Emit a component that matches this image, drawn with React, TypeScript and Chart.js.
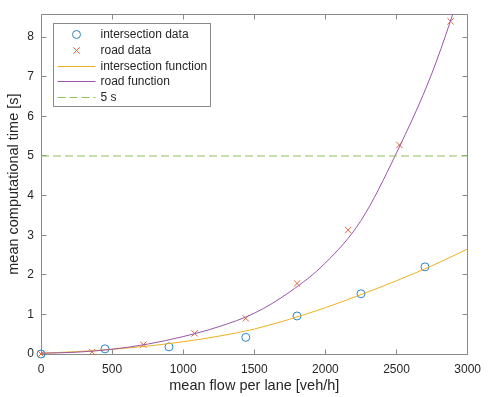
import React, { useEffect, useRef } from "react";
import { Chart, registerables } from "chart.js";

Chart.register(...registerables);

// ---- data ----
const flowTicks = [0, 500, 1000, 1500, 2000, 2500, 3000];
const timeTicks = [0, 1, 2, 3, 4, 5, 6, 7, 8];

const intersectionFlow = [0, 450, 900, 1440, 1800, 2250, 2700];
const intersectionTime = [0.0, 0.13, 0.18, 0.42, 0.96, 1.52, 2.2];

const roadFlow = [0, 360, 720, 1080, 1440, 1800, 2160, 2520, 2880];
const roadTime = [0.0, 0.05, 0.235, 0.52, 0.9, 1.78, 3.13, 5.28, 8.4];

const fitFlow = [0, 250, 500, 750, 1000, 1250, 1500, 1750, 2000, 2250, 2500, 2750, 3000];
const intersectionFit = [0.02, 0.06, 0.12, 0.2, 0.31, 0.45, 0.63, 0.88, 1.17, 1.5, 1.85, 2.23, 2.65];
const roadFit = [0.02, 0.045, 0.12, 0.25, 0.44, 0.69, 1.03, 1.57, 2.3, 3.37, 5.08, 7.1, 9.7];

const thresholdFlow = [0, 3000];
const thresholdTime = [5, 5];

const seriesLabels = ["intersection data", "road data", "intersection function", "road function", "5 s"];
const xTitle = "mean flow per lane [veh/h]";
const yTitle = "mean computational time [s]";

// ---- styles ----
const BLUE = "#2a86c8";
const ORANGE = "#e0683a";
const YELLOW = "#EDB120";
const PURPLE = "#9a55a8";
const GREEN = "#8fc25a";
const TEXT = "#262626";
const AXIS = "#8a8a8a";
const FONT = "'Liberation Sans', Arial, Helvetica, sans-serif";

const pts = (xs: number[], ys: number[]) => xs.map((x, i) => ({ x, y: ys[i] }));

const framePlugin = {
  id: "frame",
  beforeDatasetsDraw(chart: any) {
    const { ctx, chartArea: a, scales } = chart;
    const xs = scales.x;
    const ys = scales.y;
    ctx.save();
    ctx.strokeStyle = AXIS;
    ctx.lineWidth = 1;
    const L = Math.floor(a.left) + 0.5;
    const R = Math.floor(a.right) + 0.5;
    const T = Math.floor(a.top) + 0.5;
    const B = Math.floor(a.bottom) + 0.5;
    ctx.beginPath();
    ctx.rect(L, T, R - L, B - T);
    const tl = 5;
    flowTicks.forEach((v) => {
      const px = Math.floor(xs.getPixelForValue(v)) + 0.5;
      ctx.moveTo(px, B);
      ctx.lineTo(px, B - tl);
      ctx.moveTo(px, T);
      ctx.lineTo(px, T + tl);
    });
    timeTicks.forEach((v) => {
      const py = Math.floor(ys.getPixelForValue(v)) + 0.5;
      ctx.moveTo(L, py);
      ctx.lineTo(L + tl, py);
      ctx.moveTo(R, py);
      ctx.lineTo(R - tl, py);
    });
    ctx.stroke();
    ctx.restore();
  },
  afterDatasetsDraw(chart: any) {
    const { ctx, chartArea: a } = chart;
    ctx.save();
    const bx = Math.floor(a.left) + 12 + 0.5;
    const by = Math.floor(a.top) + 9 + 0.5;
    const bw = 157;
    const bh = 83;
    ctx.fillStyle = "#ffffff";
    ctx.fillRect(bx, by, bw, bh);
    ctx.strokeStyle = AXIS;
    ctx.lineWidth = 1;
    ctx.strokeRect(bx, by, bw, bh);
    const rowY = (i: number) => Math.floor(by + 11 + i * 15.75) + 0.5;
    const sx0 = bx + 4;
    const sx1 = bx + 42;
    const mx = (sx0 + sx1) / 2;
    const tx = bx + 47;
    // circle
    ctx.strokeStyle = BLUE;
    ctx.beginPath();
    ctx.arc(mx, rowY(0), 4, 0, Math.PI * 2);
    ctx.stroke();
    // cross
    ctx.strokeStyle = ORANGE;
    const c = 3.2;
    ctx.beginPath();
    ctx.moveTo(mx - c, rowY(1) - c);
    ctx.lineTo(mx + c, rowY(1) + c);
    ctx.moveTo(mx - c, rowY(1) + c);
    ctx.lineTo(mx + c, rowY(1) - c);
    ctx.stroke();
    // lines
    const drawLine = (i: number, col: string, dash: number[]) => {
      ctx.strokeStyle = col;
      ctx.setLineDash(dash);
      ctx.beginPath();
      ctx.moveTo(sx0, rowY(i));
      ctx.lineTo(sx1, rowY(i));
      ctx.stroke();
      ctx.setLineDash([]);
    };
    drawLine(2, YELLOW, []);
    drawLine(3, PURPLE, []);
    drawLine(4, GREEN, [8, 4]);
    ctx.fillStyle = TEXT;
    ctx.font = `12px ${FONT}`;
    ctx.textBaseline = "middle";
    ctx.textAlign = "left";
    seriesLabels.forEach((t, i) => ctx.fillText(t, tx, rowY(i)));
    ctx.restore();
  },
};

export default function App() {
  const ref = useRef<HTMLCanvasElement | null>(null);

  useEffect(() => {
    if (!ref.current) return;
    const chart = new Chart(ref.current, {
      type: "scatter",
      data: {
        datasets: [
          {
            label: seriesLabels[0],
            data: pts(intersectionFlow, intersectionTime),
            showLine: false,
            pointStyle: "circle",
            pointRadius: 4,
            pointBorderWidth: 1,
            pointBorderColor: BLUE,
            pointBackgroundColor: "rgba(0,0,0,0)",
            borderColor: BLUE,
            clip: false,
            order: 5,
          },
          {
            label: seriesLabels[1],
            data: pts(roadFlow, roadTime),
            showLine: false,
            pointStyle: "crossRot",
            pointRadius: 4.5,
            pointBorderWidth: 1,
            pointBorderColor: ORANGE,
            borderColor: ORANGE,
            clip: false,
            order: 4,
          },
          {
            label: seriesLabels[2],
            data: pts(fitFlow, intersectionFit),
            showLine: true,
            pointRadius: 0,
            borderColor: YELLOW,
            borderWidth: 1,
            cubicInterpolationMode: "monotone",
            order: 3,
          },
          {
            label: seriesLabels[3],
            data: pts(fitFlow, roadFit),
            showLine: true,
            pointRadius: 0,
            borderColor: PURPLE,
            borderWidth: 1,
            cubicInterpolationMode: "monotone",
            order: 2,
          },
          {
            label: seriesLabels[4],
            data: pts(thresholdFlow, thresholdTime),
            showLine: true,
            pointRadius: 0,
            borderColor: GREEN,
            borderWidth: 1,
            borderDash: [8, 4],
            order: 1,
          },
        ],
      } as any,
      options: {
        animation: false,
        responsive: false,
        devicePixelRatio: 1,
        layout: { padding: { top: 14, right: 15, left: 0, bottom: 0 } },
        plugins: { legend: { display: false }, tooltip: { enabled: false } },
        events: [],
        scales: {
          x: {
            type: "linear",
            min: 0,
            max: 3000,
            afterBuildTicks: (s: any) => {
              s.ticks = flowTicks.map((v) => ({ value: v }));
            },
            afterFit: (s: any) => {
              s.height = 43;
            },
            grid: { display: false, drawTicks: false },
            border: { display: false },
            ticks: {
              color: TEXT,
              font: { family: FONT, size: 12 },
              padding: 8,
              maxRotation: 0,
              autoSkip: false,
              callback: (v: any) => String(v),
            },
            title: {
              display: true,
              text: xTitle,
              color: TEXT,
              font: { family: FONT, size: 14.5 },
              padding: { top: 0, bottom: 2.5 },
            },
          },
          y: {
            type: "linear",
            min: 0,
            max: 8.58,
            afterBuildTicks: (s: any) => {
              s.ticks = timeTicks.map((v) => ({ value: v }));
            },
            afterFit: (s: any) => {
              s.width = 41;
            },
            grid: { display: false, drawTicks: false },
            border: { display: false },
            ticks: {
              color: TEXT,
              font: { family: FONT, size: 12 },
              padding: 7,
              autoSkip: false,
              callback: (v: any) => String(v),
            },
            title: {
              display: true,
              text: yTitle,
              color: TEXT,
              font: { family: FONT, size: 14.5 },
              padding: { top: 5.3, bottom: 0 },
            },
          },
        },
      } as any,
      plugins: [framePlugin],
    });
    return () => chart.destroy();
  }, []);

  return (
    <div style={{ position: "absolute", left: 0, top: 0, width: 489, height: 397, background: "#ffffff" }}>
      <canvas ref={ref} width={489} height={397} style={{ display: "block" }} />
    </div>
  );
}
